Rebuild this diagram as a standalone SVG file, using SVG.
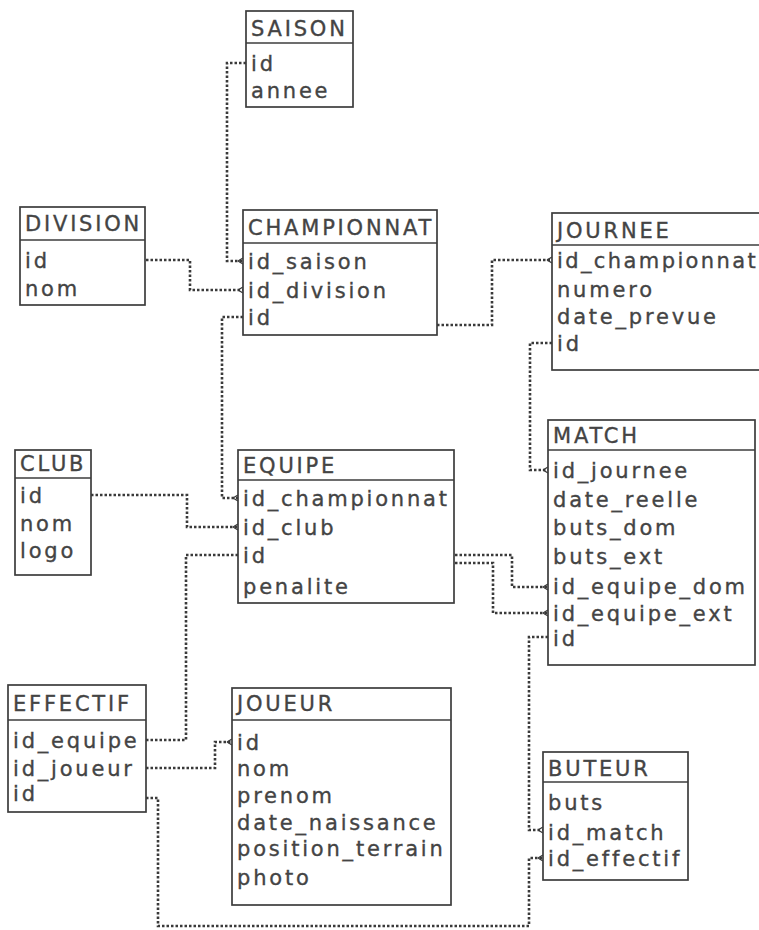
<svg xmlns="http://www.w3.org/2000/svg" width="759" height="930" viewBox="0 0 759 930">
<defs>
<marker id="foot" markerWidth="8" markerHeight="8" refX="6" refY="4" orient="auto" markerUnits="userSpaceOnUse">
<path d="M1,4 L6,1 M1,4 L6,7" fill="none" stroke="#3a3a3a" stroke-width="1.4"/>
</marker>
</defs>
<style>
.box{fill:#fff;stroke:#3c3c3c;stroke-width:1.7}
.sep{stroke:#3c3c3c;stroke-width:1.7}
text{font-family:"DejaVu Sans",sans-serif;font-size:21px;fill:#444;stroke:#444;stroke-width:0.35px;letter-spacing:2.8px}
.c{fill:none;stroke:#3a3a3a;stroke-width:2.6;stroke-dasharray:2.5 2}
.ce{marker-end:url(#foot)}
</style>
<rect width="759" height="930" fill="#fff"/>
<g id="connectors">
<path class="c ce" d="M246,63 H227 V261 H243"/>
<path class="c ce" d="M146,260 H190 V290 H243"/>
<path class="c ce" d="M243,317 H222 V498 H238"/>
<path class="c ce" d="M437,325 H492 V260 H552"/>
<path class="c ce" d="M552,343 H530 V470 H548"/>
<path class="c ce" d="M91,495 H187 V527 H238"/>
<path class="c" d="M238,555 H186 V740 H146"/>
<path class="c ce" d="M455,555 H512 V587 H548"/>
<path class="c ce" d="M455,563 H493 V613 H548"/>
<path class="c ce" d="M548,637 H529 V830 H543"/>
<path class="c ce" d="M146,768 H215 V742 H232"/>
<path class="c ce" d="M146,798 H158 V926 H529 V858 H543"/>
</g>
<g id="saison">
<rect class="box" x="246" y="11" width="107" height="96"/>
<line class="sep" x1="246" y1="43" x2="353" y2="43"/>
<text x="251" y="36">SAISON</text>
<text x="251" y="71">id</text>
<text x="251" y="98">annee</text>
</g>
<g id="division">
<rect class="box" x="20" y="207" width="125" height="98"/>
<line class="sep" x1="20" y1="240" x2="145" y2="240"/>
<text x="25" y="231">DIVISION</text>
<text x="25" y="268">id</text>
<text x="25" y="296">nom</text>
</g>
<g id="championnat">
<rect class="box" x="243" y="210" width="194" height="125"/>
<line class="sep" x1="243" y1="243" x2="437" y2="243"/>
<text x="248" y="235">CHAMPIONNAT</text>
<text x="248" y="269">id_saison</text>
<text x="248" y="298">id_division</text>
<text x="248" y="325">id</text>
</g>
<g id="journee">
<rect class="box" x="552" y="213" width="220" height="157"/>
<line class="sep" x1="552" y1="245" x2="772" y2="245"/>
<text x="557" y="238">JOURNEE</text>
<text x="557" y="268" style="letter-spacing:2.4px">id_championnat</text>
<text x="557" y="297">numero</text>
<text x="557" y="324">date_prevue</text>
<text x="557" y="351">id</text>
</g>
<g id="match">
<rect class="box" x="548" y="420" width="207" height="245"/>
<line class="sep" x1="548" y1="450" x2="755" y2="450"/>
<text x="553" y="443">MATCH</text>
<text x="553" y="478">id_journee</text>
<text x="553" y="507">date_reelle</text>
<text x="553" y="535">buts_dom</text>
<text x="553" y="564">buts_ext</text>
<text x="553" y="594">id_equipe_dom</text>
<text x="553" y="621">id_equipe_ext</text>
<text x="553" y="646">id</text>
</g>
<g id="club">
<rect class="box" x="15" y="450" width="76" height="125"/>
<line class="sep" x1="15" y1="478" x2="91" y2="478"/>
<text x="20" y="471">CLUB</text>
<text x="20" y="503">id</text>
<text x="20" y="531">nom</text>
<text x="20" y="558">logo</text>
</g>
<g id="equipe">
<rect class="box" x="238" y="450" width="216" height="153"/>
<line class="sep" x1="238" y1="480" x2="454" y2="480"/>
<text x="243" y="473">EQUIPE</text>
<text x="243" y="506">id_championnat</text>
<text x="243" y="535">id_club</text>
<text x="243" y="563">id</text>
<text x="243" y="594">penalite</text>
</g>
<g id="effectif">
<rect class="box" x="8" y="685" width="138" height="127"/>
<line class="sep" x1="8" y1="720" x2="146" y2="720"/>
<text x="13" y="711">EFFECTIF</text>
<text x="13" y="748">id_equipe</text>
<text x="13" y="776">id_joueur</text>
<text x="13" y="801">id</text>
</g>
<g id="joueur">
<rect class="box" x="232" y="688" width="219" height="217"/>
<line class="sep" x1="232" y1="720" x2="451" y2="720"/>
<text x="237" y="711">JOUEUR</text>
<text x="237" y="750">id</text>
<text x="237" y="776">nom</text>
<text x="237" y="803">prenom</text>
<text x="237" y="830">date_naissance</text>
<text x="237" y="856">position_terrain</text>
<text x="237" y="885">photo</text>
</g>
<g id="buteur">
<rect class="box" x="543" y="752" width="145" height="128"/>
<line class="sep" x1="543" y1="782" x2="688" y2="782"/>
<text x="548" y="776">BUTEUR</text>
<text x="548" y="810">buts</text>
<text x="548" y="840">id_match</text>
<text x="548" y="866">id_effectif</text>
</g>
</svg>
